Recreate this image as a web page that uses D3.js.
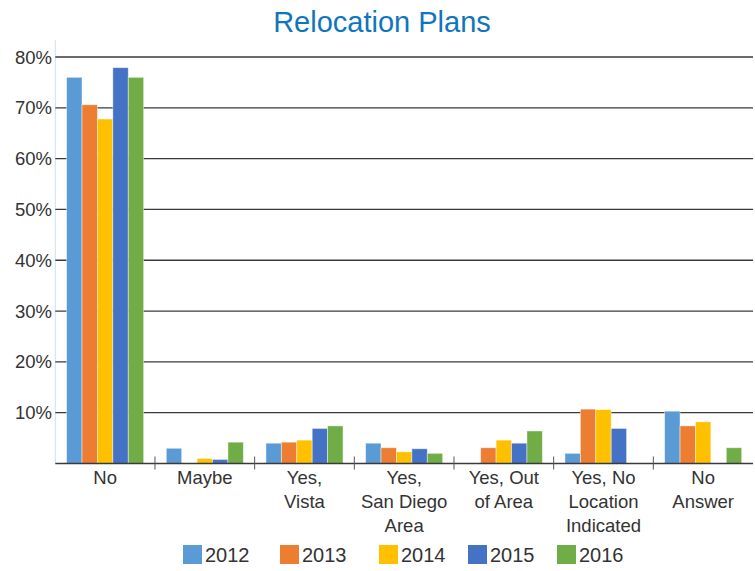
<!DOCTYPE html>
<html>
<head>
<meta charset="utf-8">
<script src="https://cdn.jsdelivr.net/npm/d3@7"></script>
<style>
  html, body { margin: 0; padding: 0; background: #fff; }
  svg { display: block; font-family: "Liberation Sans", Arial, sans-serif; }
</style>
</head>
<body>
<div id="chart"></div>
<script>
const categories = [
  ['No'],
  ['Maybe'],
  ['Yes,', 'Vista'],
  ['Yes,', 'San Diego', 'Area'],
  ['Yes, Out', 'of Area'],
  ['Yes, No', 'Location', 'Indicated'],
  ['No', 'Answer'],
];
const years = ['2012', '2013', '2014', '2015', '2016'];
const colors = ['#5B9BD5', '#ED7D31', '#FFC000', '#4472C4', '#70AD47'];

// percent values per year, one entry per category (null = no bar)
const values2012 = [76, 3.0, 4.0, 4.0, null, 2.0, 10.3];
const values2013 = [70.6, null, 4.2, 3.1, 3.1, 10.7, 7.4];
const values2014 = [67.8, 1.0, 4.6, 2.3, 4.6, 10.6, 8.2];
const values2015 = [77.9, 0.8, 6.9, 2.9, 4.0, 6.9, null];
const values2016 = [76, 4.2, 7.4, 2.0, 6.4, null, 3.1];
const series = [values2012, values2013, values2014, values2015, values2016];

const yTicks = [10, 20, 30, 40, 50, 60, 70, 80];

const WIDTH = 755;
const HEIGHT = 571;
const PLOT_LEFT = 55.3;
const PLOT_RIGHT = 753;
const PLOT_TOP = 57;
const PLOT_BOTTOM = 463.5;

const svg = d3.select('#chart').append('svg')
  .attr('width', WIDTH)
  .attr('height', HEIGHT);

const x0 = d3.scaleBand()
  .domain(d3.range(categories.length))
  .range([PLOT_LEFT, PLOT_RIGHT]);

const x1 = d3.scaleBand()
  .domain(years)
  .range([11.3, x0.bandwidth() - 11.3]);

const y = d3.scaleLinear()
  .domain([0, 80])
  .range([PLOT_BOTTOM, PLOT_TOP]);

// title
svg.append('text')
  .attr('x', 382)
  .attr('y', 32)
  .attr('text-anchor', 'middle')
  .attr('font-size', '29px')
  .attr('fill', '#0E76BC')
  .text('Relocation Plans');

// left axis line
svg.append('line')
  .attr('x1', PLOT_LEFT).attr('x2', PLOT_LEFT)
  .attr('y1', 40).attr('y2', PLOT_BOTTOM)
  .attr('stroke', '#CFE0EF')
  .attr('stroke-width', 1);

// gridlines
svg.append('g')
  .selectAll('line')
  .data(yTicks)
  .join('line')
  .attr('x1', PLOT_LEFT)
  .attr('x2', PLOT_RIGHT)
  .attr('y1', (d) => y(d))
  .attr('y2', (d) => y(d))
  .attr('stroke', '#3a3a3a')
  .attr('stroke-width', 1.3);

// y labels
svg.append('g')
  .selectAll('text')
  .data(yTicks)
  .join('text')
  .attr('x', 52)
  .attr('y', (d) => y(d) + 6.5)
  .attr('text-anchor', 'end')
  .attr('font-size', '18.5px')
  .attr('fill', '#333')
  .text((d) => d + '%');

// bars
const groups = svg.append('g')
  .selectAll('g')
  .data(categories)
  .join('g')
  .attr('transform', (d, i) => `translate(${x0(i)},0)`);

groups.selectAll('rect')
  .data((d, i) => years.map((yr, k) => ({ yr, k, v: series[k][i] })).filter((e) => e.v != null))
  .join('rect')
  .attr('x', (d) => x1(d.yr))
  .attr('width', x1.bandwidth())
  .attr('y', (d) => y(d.v))
  .attr('height', (d) => PLOT_BOTTOM - y(d.v))
  .attr('fill', (d) => colors[d.k])
  .attr('stroke', 'rgba(255,255,255,0.55)')
  .attr('stroke-width', 0.8);

// baseline
svg.append('line')
  .attr('x1', PLOT_LEFT).attr('x2', PLOT_RIGHT)
  .attr('y1', PLOT_BOTTOM).attr('y2', PLOT_BOTTOM)
  .attr('stroke', '#3a3a3a')
  .attr('stroke-width', 1.5);

// category tick marks
svg.append('g')
  .selectAll('line')
  .data(d3.range(1, categories.length))
  .join('line')
  .attr('x1', (d) => x0(d))
  .attr('x2', (d) => x0(d))
  .attr('y1', PLOT_BOTTOM - 7)
  .attr('y2', PLOT_BOTTOM + 6)
  .attr('stroke', '#555')
  .attr('stroke-width', 1);

// category labels
const labels = svg.append('g')
  .selectAll('text')
  .data(categories)
  .join('text')
  .attr('x', (d, i) => x0(i) + x0.bandwidth() / 2)
  .attr('y', 484)
  .attr('text-anchor', 'middle')
  .attr('font-size', '18.5px')
  .attr('fill', '#333');

labels.selectAll('tspan')
  .data((d) => d)
  .join('tspan')
  .attr('x', function () { return this.parentNode.getAttribute('x'); })
  .attr('dy', (d, i) => (i === 0 ? 0 : 24))
  .text((d) => d);

// legend
const legendX = [183, 280, 379, 468, 557];
const legend = svg.append('g')
  .selectAll('g')
  .data(years)
  .join('g')
  .attr('transform', (d, i) => `translate(${legendX[i]},545)`);

legend.append('rect')
  .attr('width', 19)
  .attr('height', 19)
  .attr('fill', (d, i) => colors[i]);

legend.append('text')
  .attr('x', 22)
  .attr('y', 17)
  .attr('font-size', '20px')
  .attr('fill', '#333')
  .text((d) => d);
</script>
</body>
</html>
